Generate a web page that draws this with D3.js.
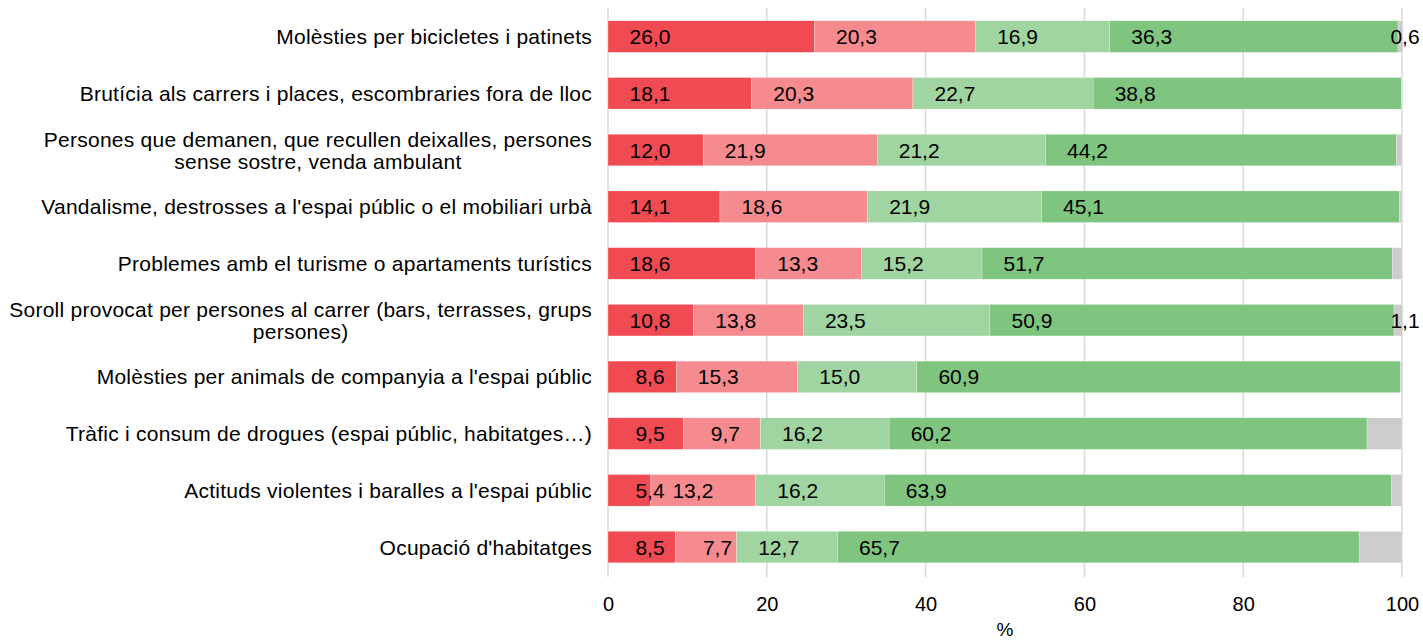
<!DOCTYPE html>
<html>
<head>
<meta charset="utf-8">
<script src="https://cdn.jsdelivr.net/npm/d3@7"></script>
<style>
  html, body { margin: 0; padding: 0; background: #ffffff; }
  svg { display: block; font-family: "Liberation Sans", Arial, sans-serif; }
</style>
</head>
<body>
<svg id="chart" width="1423" height="640"></svg>
<script>
const categories = [
  "Molèsties per bicicletes i patinets",
  "Brutícia als carrers i places, escombraries fora de lloc",
  "Persones que demanen, que recullen deixalles, persones\nsense sostre, venda ambulant",
  "Vandalisme, destrosses a l'espai públic o el mobiliari urbà",
  "Problemes amb el turisme o apartaments turístics",
  "Soroll provocat per persones al carrer (bars, terrasses, grups\npersones)",
  "Molèsties per animals de companyia a l'espai públic",
  "Tràfic i consum de drogues (espai públic, habitatges…)",
  "Actituds violentes i baralles a l'espai públic",
  "Ocupació d'habitatges"
];
const seriesNames = ["Molt", "Bastant", "Poc", "Gens", "NS/NC"];
const valuesMolt    = [26.0, 18.1, 12.0, 14.1, 18.6, 10.8, 8.6, 9.5, 5.4, 8.5];
const valuesBastant = [20.3, 20.3, 21.9, 18.6, 13.3, 13.8, 15.3, 9.7, 13.2, 7.7];
const valuesPoc     = [16.9, 22.7, 21.2, 21.9, 15.2, 23.5, 15.0, 16.2, 16.2, 12.7];
const valuesGens    = [36.3, 38.8, 44.2, 45.1, 51.7, 50.9, 60.9, 60.2, 63.9, 65.7];
const valuesNsnc    = [0.6, 0.1, 0.7, 0.3, 1.2, 1.1, 0.2, 4.4, 1.3, 5.4];
const nsncLabelShown = [true, false, false, false, false, true, false, false, false, false];
const xTicks = [0, 20, 40, 60, 80, 100];
const xAxisTitle = "%";
const colors = ["#F04A52", "#F68B8F", "#A0D4A0", "#7FC57F", "#CCCCCC"];

const seriesValues = [valuesMolt, valuesBastant, valuesPoc, valuesGens, valuesNsnc];
const rows = categories.map((c, i) => {
  const r = { category: c };
  seriesNames.forEach((s, k) => r[s] = seriesValues[k][i]);
  return r;
});
const stacked = d3.stack().keys(seriesNames)(rows);

const svg = d3.select("#chart");
const x = d3.scaleLinear().domain([0, 100]).range([608, 1402]);
const y = d3.scaleBand().domain(categories).range([8.2, 575.4]).paddingInner(0.444).paddingOuter(0.222);
const fmt = v => d3.format(".1f")(v).replace(".", ",");

// gridlines
svg.append("g").selectAll("line").data(xTicks).join("line")
  .attr("x1", d => x(d)).attr("x2", d => x(d))
  .attr("y1", 8).attr("y2", 577)
  .attr("stroke", "#D9D9D9").attr("stroke-width", 1.5);

// bars
const layers = svg.append("g").selectAll("g").data(stacked).join("g")
  .attr("fill", (d, i) => colors[i]);
layers.selectAll("rect").data(d => d).join("rect")
  .attr("x", d => x(d[0]))
  .attr("width", d => Math.max(0, x(d[1]) - x(d[0])))
  .attr("y", d => y(d.data.category))
  .attr("height", y.bandwidth())
  .attr("stroke", "#ffffff").attr("stroke-width", 0.4).attr("stroke-opacity", 0.6);

// value labels
const labelG = svg.append("g").attr("font-size", 21).attr("fill", "#000");
stacked.forEach((layer, k) => {
  layer.forEach((d, i) => {
    if (k === 4 && !nsncLabelShown[i]) return;
    let cx = x(d[0]) + 42;
    if (k === 4) cx = Math.min(cx, x(100) + 3);
    labelG.append("text")
      .attr("x", cx)
      .attr("y", y(d.data.category) + y.bandwidth() / 2)
      .attr("dy", "0.36em")
      .attr("text-anchor", "middle")
      .text(fmt(seriesValues[k][i]));
  });
});

// category labels
const catG = svg.append("g").attr("font-size", 21).attr("fill", "#000");
categories.forEach(c => {
  const lines = c.split("\n");
  const cy = y(c) + y.bandwidth() / 2;
  const t = catG.append("text").attr("text-anchor", "middle").attr("letter-spacing", "0.25px");
  lines.forEach((ln, j) => {
    t.append("tspan").attr("x", 0)
      .attr("y", cy + (j - (lines.length - 1) / 2) * 22)
      .attr("dy", "0.36em").text(ln);
  });
  const w = t.node().getBBox().width;
  t.selectAll("tspan").attr("x", 592 - w / 2);
});

// x axis
const axis = svg.append("g").attr("transform", "translate(0,577)")
  .call(d3.axisBottom(x).tickValues(xTicks).tickSize(0).tickPadding(0).tickFormat(d3.format("d")));
axis.select(".domain").remove();
axis.selectAll("text").attr("font-size", 20).attr("font-family", "'Liberation Sans', Arial, sans-serif")
  .attr("fill", "#000").attr("dy", "0").attr("y", 34);

svg.append("text").attr("x", (x(0) + x(100)) / 2).attr("y", 636)
  .attr("text-anchor", "middle").attr("font-size", 19).attr("fill", "#000").text(xAxisTitle);
</script>
</body>
</html>
